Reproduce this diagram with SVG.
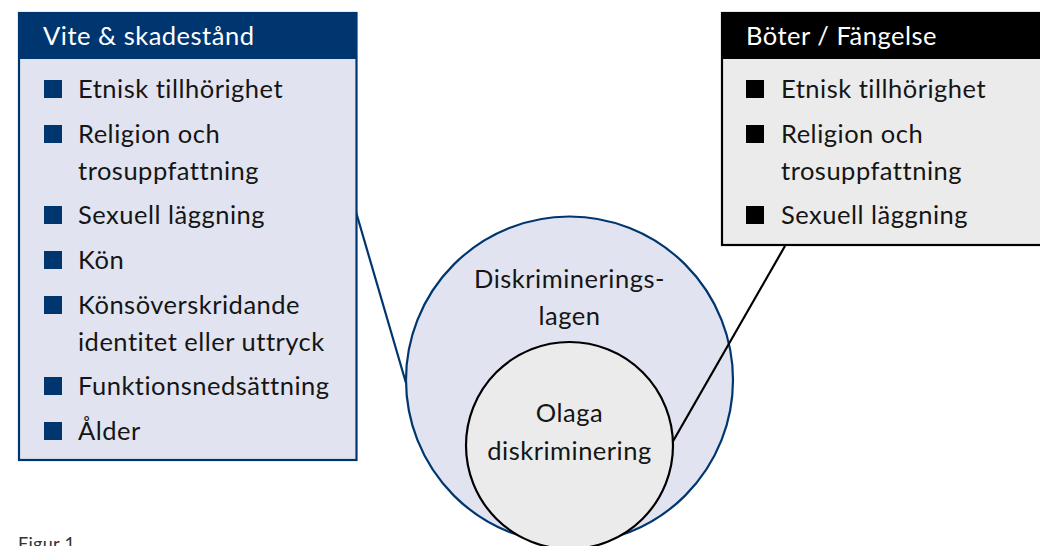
<svg xmlns="http://www.w3.org/2000/svg" width="1040" height="546" viewBox="0 0 1040 546">
  <style>
    text { font-family: "Lato", "Liberation Sans", sans-serif; font-size: 25.5px; letter-spacing: 0.5px; fill: #151515; }
    .head { fill: #ffffff; }
    .mid { text-anchor: middle; }
    .navy-box { fill: #e1e4f0; stroke: #003670; stroke-width: 2.2; }
    .black-box { fill: #ebebeb; stroke: #000; stroke-width: 2.2; }
    .bul-navy { fill: #003670; }
    .bul-black { fill: #000; }
    .cap { font-size: 18px; letter-spacing: 0.3px; fill: #333; }
  </style>
  <rect width="1040" height="546" fill="#ffffff"/>

  <!-- connector from the left box to the outer circle -->
  <g id="connectors" fill="none" stroke-width="2.2">
    <line x1="356" y1="212" x2="406" y2="383" stroke="#003670"/>
  </g>

  <!-- outer circle: the anti-discrimination act -->
  <g id="diskrimineringslagen">
    <circle cx="569.5" cy="380" r="163.5" fill="#e1e4f0" stroke="#003670" stroke-width="2.2"/>
    <text class="mid" x="569.5" y="288">Diskriminerings-</text>
    <text class="mid" x="569.5" y="325">lagen</text>
  </g>

  <!-- connector from the right box to the inner circle -->
  <g id="connectors-2" fill="none" stroke-width="2.2">
    <line x1="785" y1="246" x2="672" y2="443" stroke="#000"/>
  </g>

  <!-- inner circle: unlawful discrimination -->
  <g id="olaga-diskriminering">
    <circle cx="569.5" cy="445.5" r="103.5" fill="#ebebeb" stroke="#000" stroke-width="2.2"/>
    <text class="mid" x="569.5" y="422">Olaga</text>
    <text class="mid" x="569.5" y="460">diskriminering</text>
  </g>

  <!-- left box -->
  <g id="vite-skadestand">
    <rect class="navy-box" x="19" y="13" width="337.5" height="447"/>
    <rect x="19" y="13" width="337.5" height="46" fill="#003670"/>
    <text class="head" x="43" y="45">Vite &amp; skadestånd</text>
    <g class="bul-navy">
      <rect x="44" y="80" width="18" height="18"/>
      <rect x="44" y="125" width="18" height="18"/>
      <rect x="44" y="206" width="18" height="18"/>
      <rect x="44" y="251" width="18" height="18"/>
      <rect x="44" y="296" width="18" height="18"/>
      <rect x="44" y="377" width="18" height="18"/>
      <rect x="44" y="422" width="18" height="18"/>
    </g>
    <text x="78" y="98">Etnisk tillhörighet</text>
    <text x="78" y="143">Religion och</text>
    <text x="78" y="180">trosuppfattning</text>
    <text x="78" y="224">Sexuell läggning</text>
    <text x="78" y="269">Kön</text>
    <text x="78" y="314">Könsöverskridande</text>
    <text x="78" y="351">identitet eller uttryck</text>
    <text x="78" y="395">Funktionsnedsättning</text>
    <text x="78" y="440">Ålder</text>
  </g>

  <!-- right box -->
  <g id="boter-fangelse">
    <rect class="black-box" x="722" y="13" width="330" height="232"/>
    <rect x="722" y="13" width="330" height="46" fill="#000"/>
    <text class="head" x="746" y="45">Böter / Fängelse</text>
    <g class="bul-black">
      <rect x="746" y="80" width="18" height="18"/>
      <rect x="746" y="125" width="18" height="18"/>
      <rect x="746" y="206" width="18" height="18"/>
    </g>
    <text x="781" y="98">Etnisk tillhörighet</text>
    <text x="781" y="143">Religion och</text>
    <text x="781" y="180">trosuppfattning</text>
    <text x="781" y="224">Sexuell läggning</text>
  </g>

  <text class="cap" x="18" y="550">Figur 1</text>
</svg>
